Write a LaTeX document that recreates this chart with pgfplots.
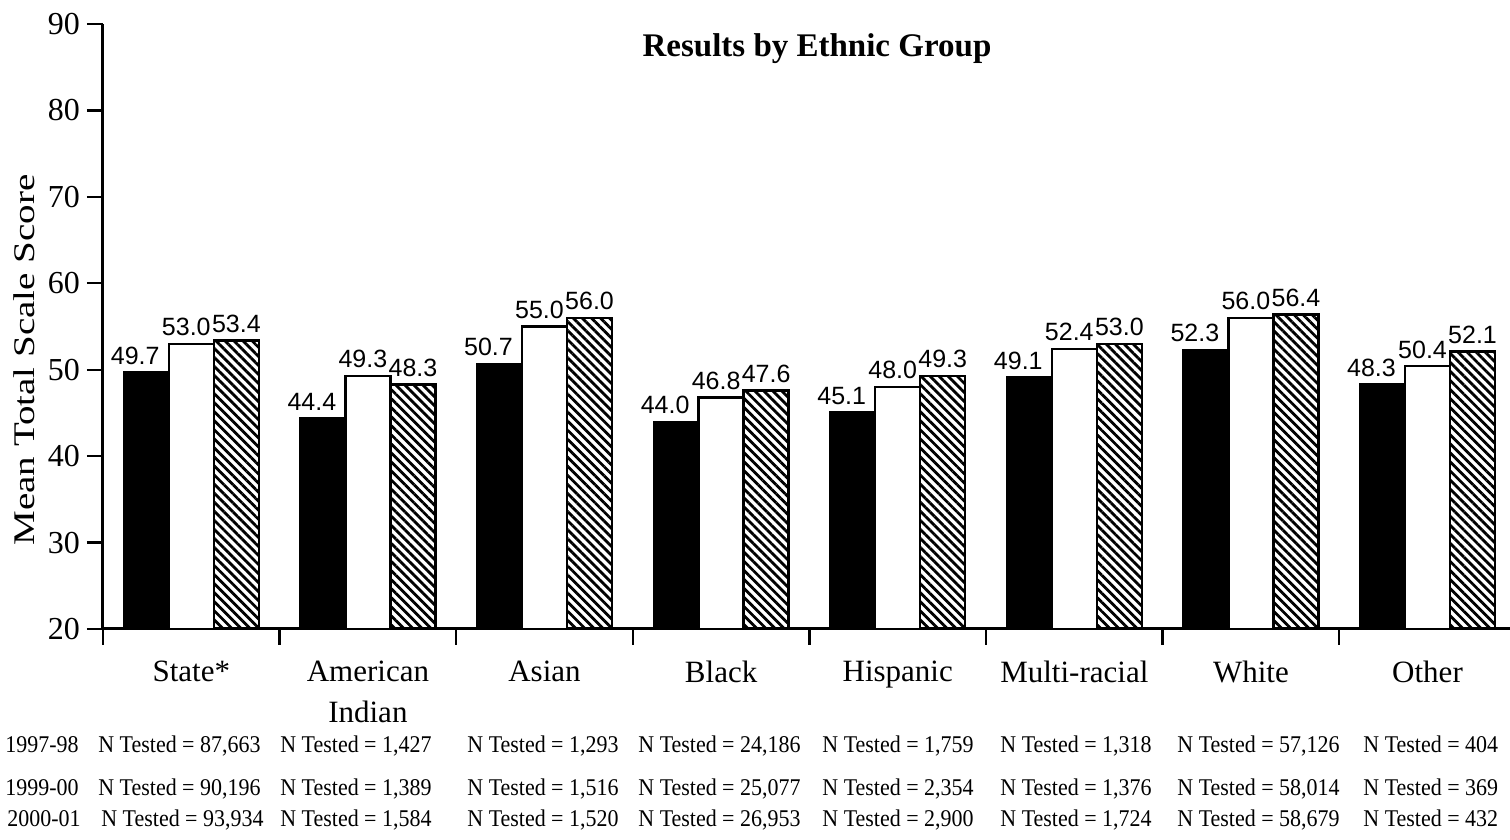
\documentclass[border=0pt]{standalone}
\usepackage{fontspec}
\setmainfont{Liberation Serif}
\newfontfamily\valfont{Liberation Sans}
\newfontfamily\ylabfont[FakeStretch=1.3]{Liberation Serif}
\newfontfamily\ntfont[FakeStretch=0.915]{Liberation Serif}
\usepackage{pgfplots}
\pgfplotsset{compat=1.18}
\usetikzlibrary{patterns.meta}

\begin{document}
\begin{tikzpicture}
\begin{axis}[
  scale only axis, width=703.5pt, height=302.5pt,
  xmin=-0.5, xmax=7.467, ymin=20, ymax=90,
  axis x line*=bottom, axis y line*=left,
  axis line style={line width=1.5pt},
  ytick={20,30,...,90},
  yticklabel style={font=\fontsize{16}{16}\selectfont, /pgf/number format/assume math mode=true},
  tick align=outside, major tick length=8pt, tick style={line width=1.2pt, black},
  xtick={-0.5,0.5,...,6.5}, xticklabels={},
  extra x ticks={0,1,...,7},
  extra x tick labels={State*, American\\Indian, Asian, Black, Hispanic, Multi-racial, White, Other},
  extra x tick style={major tick length=0pt, tick label style={font=\fontsize{15.5}{20.5}\selectfont, align=center, anchor=north, yshift=-12.5pt}},
  ybar, bar width=0.255,
  nodes near coords,
  nodes near coords style={font=\valfont\fontsize{12.5}{12.5}\selectfont, black,
    /pgf/number format/fixed, /pgf/number format/fixed zerofill,
    /pgf/number format/precision=1, /pgf/number format/assume math mode=true},
]
\addplot[fill=black, draw=black, line width=1pt, bar shift=-0.255,
  every node near coord/.append style={xshift=-5.5pt}] coordinates {
  (0,49.7) (1,44.4) (2,50.7) (3,44.0) (4,45.1) (5,49.1) (6,52.3) (7,48.3)};
\addplot[fill=white, draw=black, line width=1.2pt, bar shift=0,
  every node near coord/.append style={xshift=-2.5pt}] coordinates {
  (0,53.0) (1,49.3) (2,55.0) (3,46.8) (4,48.0) (5,52.4) (6,56.0) (7,50.4)};
\addplot[draw=black, line width=1.2pt, bar shift=0.255,
  pattern={Lines[angle=-45,distance=3.2pt,line width=1.4pt]}, pattern color=black] coordinates {
  (0,53.4) (1,48.3) (2,56.0) (3,47.6) (4,49.3) (5,53.0) (6,56.4) (7,52.1)};
\end{axis}
% title and y label
\node[anchor=base, font=\bfseries\fontsize{16.5}{16.5}\selectfont] at (357pt,286pt) {Results by Ethnic Group};
\node[anchor=base, rotate=90, font=\ylabfont\fontsize{15}{15}\selectfont] at (-34pt,134.5pt) {Mean Total Scale Score};
% N tested rows
\begin{scope}[every node/.style={anchor=base west, inner sep=0pt, font=\ntfont\fontsize{12}{12}\selectfont}]
\node at (-49pt,-62pt) {1997-98};
\node at (-49pt,-83.5pt) {1999-00};
\node at (-48pt,-99pt) {2000-01};
\node at (-2.5pt,-62pt) {N Tested = 87,663};
\node at (-2.5pt,-83.5pt) {N Tested = 90,196};
\node at (-1pt,-99pt) {N Tested = 93,934};
\node at (88.5pt,-62pt) {N Tested = 1,427};
\node at (88.5pt,-83.5pt) {N Tested = 1,389};
\node at (88.5pt,-99pt) {N Tested = 1,584};
\node at (182pt,-62pt) {N Tested = 1,293};
\node at (182pt,-83.5pt) {N Tested = 1,516};
\node at (182pt,-99pt) {N Tested = 1,520};
\node at (267.5pt,-62pt) {N Tested = 24,186};
\node at (267.5pt,-83.5pt) {N Tested = 25,077};
\node at (267.5pt,-99pt) {N Tested = 26,953};
\node at (359.5pt,-62pt) {N Tested = 1,759};
\node at (359.5pt,-83.5pt) {N Tested = 2,354};
\node at (359.5pt,-99pt) {N Tested = 2,900};
\node at (448.5pt,-62pt) {N Tested = 1,318};
\node at (448.5pt,-83.5pt) {N Tested = 1,376};
\node at (448.5pt,-99pt) {N Tested = 1,724};
\node at (537pt,-62pt) {N Tested = 57,126};
\node at (537pt,-83.5pt) {N Tested = 58,014};
\node at (537pt,-99pt) {N Tested = 58,679};
\node at (630pt,-62pt) {N Tested = 404};
\node at (630pt,-83.5pt) {N Tested = 369};
\node at (630pt,-99pt) {N Tested = 432};
\end{scope}
\pgfresetboundingbox
\path[use as bounding box] (-51.5pt,-105.5pt) rectangle (703.5pt,314.5pt);
\end{tikzpicture}
\end{document}
